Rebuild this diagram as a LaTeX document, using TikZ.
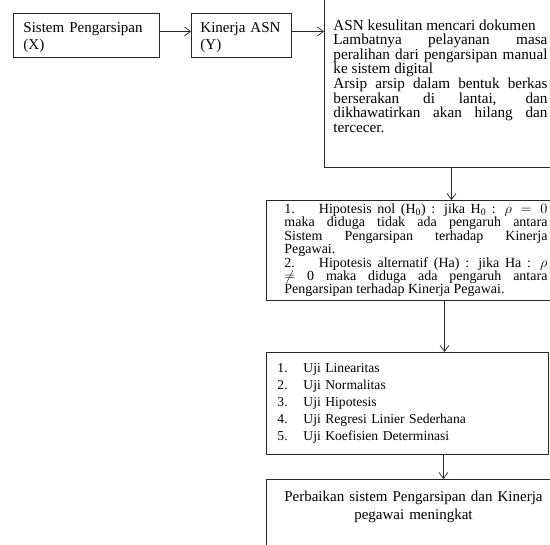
\documentclass[tikz,border=0pt]{standalone}
\usepackage{fontspec}
\setmainfont{Liberation Serif}
\usetikzlibrary{arrows.meta}

\begin{document}
\begin{tikzpicture}[x=1pt,y=-1pt,>={Straight Barb[length=6pt,width=9pt]},
  kotak/.style={rectangle,draw=black!85,line width=0.9pt,inner ysep=0pt},
  panah/.style={->,black!85,line width=0.7pt},
  besar/.style={font=\fontsize{15}{17}\selectfont,text height=15pt}]
  \useasboundingbox (0,0) rectangle (550,545);
  \clip (0,0) rectangle (550,545);
  \node[kotak,besar,anchor=north west,minimum height=44pt,text width=126pt,inner xsep=10pt,align=left] (sistem) at (13,13) {Sistem Pengarsipan\\(X)};
  \node[kotak,besar,anchor=north west,minimum height=44pt,text width=82pt,inner xsep=9pt,align=left] (kinerja) at (191,13) {Kinerja ASN\\(Y)};
  \node[kotak,font=\fontsize{15.2}{14.6}\selectfont,anchor=south west,minimum height=183pt,text width=214pt,inner xsep=9pt,align=justify] (masalah) at (324,168)
    {ASN kesulitan mencari dokumen\\
     Lambatnya pelayanan masa\linebreak peralihan dari pengarsipan manual\linebreak ke sistem digital\\
     Arsip arsip dalam bentuk berkas\linebreak berserakan di lantai, dan\linebreak dikhawatirkan akan hilang dan\linebreak tercecer.};
  \node[kotak,font=\fontsize{14}{13.4}\selectfont,anchor=north west,minimum height=100pt,text width=263pt,inner xsep=18pt,align=justify] (hipotesis) at (266,200)
    {1.\hspace{24pt}Hipotesis nol (H\textsubscript{0}) : jika H\textsubscript{0} : $\rho = 0$\linebreak maka diduga tidak ada pengaruh antara\linebreak Sistem Pengarsipan terhadap Kinerja\linebreak Pegawai.\\
     2.\hspace{24pt}Hipotesis alternatif (Ha) : jika Ha : $\rho$\linebreak $\neq$ 0 maka diduga ada pengaruh antara\linebreak Pengarsipan terhadap Kinerja Pegawai.};
  \node[kotak,font=\fontsize{13.6}{17}\selectfont,anchor=north west,minimum height=102pt,text width=260pt,inner xsep=11pt,align=left] (uji) at (266,352)
    {\makebox[26pt][l]{1.}Uji Linearitas\\
     \makebox[26pt][l]{2.}Uji Normalitas\\
     \makebox[26pt][l]{3.}Uji Hipotesis\\
     \makebox[26pt][l]{4.}Uji Regresi Linier Sederhana\\
     \makebox[26pt][l]{5.}Uji Koefisien Determinasi};
  \node[kotak,font=\fontsize{15}{18}\selectfont,anchor=north west,text width=280pt,inner xsep=7pt,inner ysep=12pt,text depth=70pt,align=center] (hasil) at (266,479)
    {Perbaikan sistem Pengarsipan dan Kinerja\\pegawai meningkat};
  % panah antar kotak
  \draw[panah] ([yshift=4pt]sistem.east) -- ([yshift=4pt]kinerja.west);
  \draw[panah] ([yshift=4pt]kinerja.east) -- ([yshift=4pt]kinerja.east -| masalah.west);
  \draw[panah] ([xshift=11pt]masalah.south) -- ([xshift=11pt]masalah.south |- hipotesis.north);
  \draw[panah] ([xshift=28.5pt]hipotesis.south) -- ([xshift=28.5pt]hipotesis.south |- uji.north);
  \draw[panah] ([xshift=36pt]uji.south) -- ([xshift=36pt]uji.south |- hasil.north);
\end{tikzpicture}
\end{document}
